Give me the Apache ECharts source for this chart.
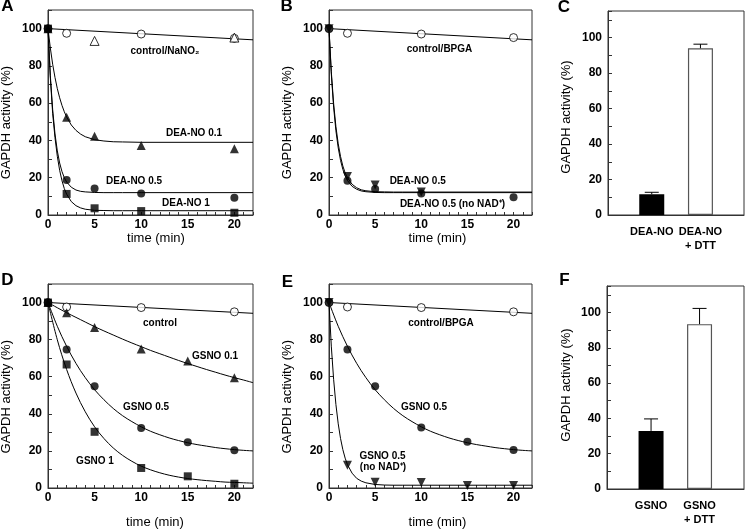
<!DOCTYPE html>
<html>
<head>
<meta charset="utf-8">
<script src="https://cdn.jsdelivr.net/npm/echarts@6/dist/echarts.min.js"></script>
<style>
  html, body { margin: 0; padding: 0; background: #fff; }
  #chart { width: 745px; height: 531px; }
</style>
</head>
<body>
<div id="chart"></div>
<script>
  // sampling times (min)
  const tAB = [0, 2, 5, 10, 20];
  const tDE = [0, 2, 5, 10, 15, 20];
  const ctrlT = [0, 22];
  const fitFast = [0, 0.25, 0.5, 0.75, 1, 1.25, 1.5, 1.75, 2, 2.5, 3, 3.5, 4, 5, 6, 7, 8, 10, 22];
  const fitSlow = [0, 1, 2, 3, 4, 5, 6, 7, 8, 9, 10, 11, 12, 13, 14, 15, 16, 17, 18, 19, 20, 21, 22];

  // panel A
  const aCtrl = [100, 97.5, null, 97.1, 94.8];
  const aNaNO2 = [null, null, 93.4, null, 95.2];
  const aDea01 = [100, 52.5, 42.3, 37.3, 35.5];
  const aDea05 = [100, 18.8, 14.2, 11.6, 9.3];
  const aDea1 = [100, 11.3, 3.6, 2.1, 1.2];
  const aCtrlFit = [100, 94];
  const aDea01Fit = [100, 89.6, 80.9, 73.8, 67.8, 62.9, 58.8, 55.4, 52.6, 48.3, 45.4, 43.4, 42, 40.4, 39.7, 39.3, 39.2, 39, 39];
  const aDea05Fit = [100, 74.8, 56.6, 43.5, 34.4, 27.9, 23.3, 20, 17.7, 14.9, 13.4, 12.7, 12.4, 12.1, 12, 12, 12, 12, 12];
  const aDea1Fit = [100, 73.5, 54.5, 41.5, 31.5, 24, 18.4, 14.2, 11.2, 7.2, 5, 3.8, 3.1, 2.5, 2.4, 2.3, 2.3, 2.3, 2.3];

  // panel B
  const bCtrl = [100, 97.5, null, 97.1, 95.2];
  const bDea05 = [100, 18.4, 14, 11.6, 9.5];
  const bNoNad = [100, 20.6, 16.1, 12.4, null];
  const bCtrlFit = [100, 94];
  const bDea05Fit = [100, 75.6, 57.9, 45.2, 36, 29.3, 24.5, 21, 18.5, 15.4, 13.8, 12.9, 12.5, 12.1, 12, 12, 12, 12, 12];
  const bNoNadFit = [100, 76.9, 59.9, 47.4, 38.2, 31.4, 26.3, 22.6, 20, 16.5, 14.6, 13.5, 13, 12.5, 12.4, 12.3, 12.3, 12.3, 12.3];

  // panel C
  const cCats = ['DEA-NO', 'DEA-NO\n+ DTT'];
  const cMeans = [11.7, 94];
  const cErrTop = [12.8, 96.3];

  // panel D
  const dCtrl = [100, 97.6, null, 97.3, null, 95];
  const dG01 = [100, 94.5, 86.6, 75, 68.5, 59.5];
  const dG05 = [100, 74.7, 54.8, 32.4, 24.7, 20.3];
  const dG1 = [100, 66.6, 30.3, 10.8, 6.3, 2.3];
  const dCtrlFit = [100, 94.2];
  const dG01Fit = [100, 97.2, 94.5, 92, 89.5, 87, 84.7, 82.5, 80.3, 78.2, 76.2, 74.2, 72.4, 70.6, 68.8, 67.1, 65.5, 63.9, 62.4, 60.9, 59.5, 58.2, 56.8];
  const dG05Fit = [100, 87.2, 76.4, 67.2, 59.5, 53, 47.6, 42.9, 39, 35.8, 33, 30.6, 28.7, 27, 25.6, 24.4, 23.4, 22.6, 21.8, 21.2, 20.7, 20.3, 20];
  const dG1Fit = [100, 79.9, 63.9, 51.2, 41.1, 33, 26.7, 21.6, 17.6, 14.4, 11.8, 9.8, 8.2, 6.9, 5.9, 5.1, 4.5, 4, 3.6, 3.2, 3, 2.8, 2.6];

  // panel E
  const eCtrl = [100, 97.6, null, 97.3, null, 95];
  const eG05 = [100, 74.7, 54.8, 32.6, 24.9, 20.5];
  const eNoNad = [100, 12.3, 3.1, 2.9, 1.3, 1.3];
  const eCtrlFit = [100, 94.2];
  const eG05Fit = [100, 87.2, 76.4, 67.2, 59.5, 53, 47.6, 42.9, 39, 35.8, 33, 30.6, 28.7, 27, 25.6, 24.4, 23.4, 22.6, 21.8, 21.2, 20.7, 20.3, 20];
  const eNoNadFit = [100, 76.5, 58.6, 45, 34.6, 26.7, 20.7, 16.1, 12.6, 8, 5.2, 3.7, 2.8, 1.9, 1.6, 1.5, 1.5, 1.5, 1.5];

  // panel F
  const fCats = ['GSNO', 'GSNO\n+ DTT'];
  const fMeans = [32.9, 93.4];
  const fErrTop = [39.7, 102.3];

  const FONT = '"Liberation Sans", Arial, Helvetica, sans-serif';
  const AX = '#333';

  function pairs(ts, vs) {
    return ts.map((t, i) => [t, vs[i]]).filter(p => p[1] != null);
  }

  // 0..5 = panel frames A-F, 6/7 = bar layers of C and F
  const grids = [
    { left: 48, top: 10, width: 205, height: 205, show: true },
    { left: 329, top: 10, width: 203, height: 205, show: true },
    { left: 608, top: 11, width: 136, height: 204, show: true },
    { left: 48, top: 284, width: 205, height: 204, show: true },
    { left: 329, top: 284, width: 203, height: 204, show: true },
    { left: 607, top: 286, width: 137, height: 203, show: true },
    { left: 627.4, top: 11, width: 97.4, height: 204, show: false },
    { left: 626.8, top: 286, width: 97, height: 203, show: false }
  ].map(g => Object.assign(g, { borderColor: AX, borderWidth: 1 }));

  function timeAxis(i) {
    return {
      gridIndex: i, type: 'value', min: 0, max: 22, interval: 1,
      axisLine: { lineStyle: { color: AX } },
      axisTick: { inside: true, length: 3, lineStyle: { color: AX } },
      splitLine: { show: false },
      axisLabel: {
        margin: 4, color: '#000', fontFamily: FONT, fontSize: 12, fontWeight: 'bold',
        formatter: v => (v % 5 === 0 && v <= 20) ? String(v) : ''
      }
    };
  }
  function frameAxis(i) {
    return {
      gridIndex: i, type: 'value', min: 0, max: 1,
      axisLine: { lineStyle: { color: AX } },
      axisTick: { show: false }, axisLabel: { show: false }, splitLine: { show: false }
    };
  }
  function catAxis(i, cats) {
    return {
      gridIndex: i, type: 'category', data: cats, boundaryGap: true,
      axisLine: { show: false }, axisTick: { show: false }, splitLine: { show: false },
      axisLabel: {
        margin: 10, color: '#000', fontFamily: FONT, fontSize: 11, fontWeight: 'bold',
        lineHeight: 14, interval: 0
      }
    };
  }
  function pctAxis(i, max) {
    return {
      gridIndex: i, type: 'value', min: 0, max: max, interval: 10,
      axisLine: { show: true, lineStyle: { color: AX } },
      axisTick: { show: true, inside: true, length: 4, lineStyle: { color: AX } },
      splitLine: { show: false },
      axisLabel: {
        margin: 6, color: '#000', fontFamily: FONT, fontSize: 12, fontWeight: 'bold',
        formatter: v => (v % 20 === 0 && v <= 100) ? String(v) : ''
      }
    };
  }
  function hiddenPct(i, max) {
    return { gridIndex: i, type: 'value', min: 0, max: max, show: false, splitLine: { show: false } };
  }

  function curve(i, ts, vs, smooth) {
    return {
      type: 'line', xAxisIndex: i, yAxisIndex: i, data: pairs(ts, vs),
      showSymbol: false, smooth: smooth ? 0.35 : false, silent: true,
      lineStyle: { color: '#000', width: 1 }, z: 2
    };
  }
  function points(i, ts, vs, symbol, size, open, rotate) {
    return {
      type: 'scatter', xAxisIndex: i, yAxisIndex: i, data: pairs(ts, vs),
      symbol: symbol, symbolSize: size, symbolRotate: rotate || 0, silent: true,
      itemStyle: open
        ? { color: '#fff', borderColor: '#000', borderWidth: 1 }
        : { color: '#000', borderColor: '#000', borderWidth: 0 },
      z: open ? 3 : 4
    };
  }
  function bars(i, vals) {
    return {
      type: 'bar', xAxisIndex: i, yAxisIndex: i, barWidth: 25, silent: true,
      data: vals.map((v, k) => ({
        value: v,
        itemStyle: k === 0
          ? { color: '#000' }
          : { color: '#fff', borderColor: '#555', borderWidth: 1.2 }
      }))
    };
  }
  function errBars(i, means, tops) {
    return {
      type: 'custom', xAxisIndex: i, yAxisIndex: i, silent: true, z: 5,
      data: means.map((m, k) => [k, m, tops[k]]),
      encode: { x: 0, y: [1, 2] },
      renderItem: function (params, api) {
        const lo = api.coord([api.value(0), api.value(1)]);
        const hi = api.coord([api.value(0), api.value(2)]);
        const st = { stroke: '#000', lineWidth: 1 };
        return {
          type: 'group', children: [
            { type: 'line', shape: { x1: lo[0], y1: lo[1], x2: hi[0], y2: hi[1] }, style: st },
            { type: 'line', shape: { x1: hi[0] - 7, y1: hi[1], x2: hi[0] + 7, y2: hi[1] }, style: st }
          ]
        };
      }
    };
  }

  function txt(s, x, y, font, extra) {
    return Object.assign({
      type: 'text', x: x, y: y, silent: true,
      style: { text: s, font: font, fill: '#000', align: 'center', verticalAlign: 'middle' }
    }, extra || {});
  }
  const lab = (s, x, y) => txt(s, x, y, 'bold 10px ' + FONT);
  const letter = (s, x, y) => txt(s, x, y, 'bold 17px ' + FONT);
  const xTitle = (x, y) => txt('time (min)', x, y, '13px ' + FONT);
  const yTitle = (x, y) => txt('GAPDH activity (%)', x, y, '13px ' + FONT, { rotation: Math.PI / 2 });

  const graphics = [
    letter('A', 7.5, 6), letter('B', 286.7, 6), letter('C', 564, 7.5),
    letter('D', 7.5, 280.5), letter('E', 287.5, 282), letter('F', 564.5, 280.5),
    yTitle(6.7, 122.5), yTitle(287.7, 122.5), yTitle(566.7, 117),
    yTitle(6.7, 396.7), yTitle(287.7, 396.7), yTitle(566, 385),
    xTitle(156, 238), xTitle(437.5, 238), xTitle(155, 522.3), xTitle(437.5, 522.3),
    lab('control/NaNO₂', 165, 51), lab('DEA-NO 0.1', 194, 133.5),
    lab('DEA-NO 0.5', 134, 181), lab('DEA-NO 1', 186, 203),
    lab('control/BPGA', 439.5, 49.5), lab('DEA-NO 0.5', 417.7, 181),
    lab('DEA-NO 0.5 (no NAD⁺)', 452.5, 204),
    lab('control', 160, 323.5), lab('GSNO 0.1', 215, 356),
    lab('GSNO 0.5', 146, 407.5), lab('GSNO 1', 95, 461),
    lab('control/BPGA', 441, 323.5), lab('GSNO 0.5', 424, 407.5),
    lab('GSNO 0.5', 382.5, 456), lab('(no NAD⁺)', 383, 467.5)
  ];

  const series = [
    // A
    curve(0, ctrlT, aCtrlFit), curve(0, fitFast, aDea01Fit),
    curve(0, fitFast, aDea05Fit), curve(0, fitFast, aDea1Fit),
    points(0, tAB, aCtrl, 'circle', 8, true),
    points(0, tAB, aNaNO2, 'triangle', 9, true),
    points(0, tAB, aDea01, 'triangle', 9, false),
    points(0, tAB, aDea05, 'circle', 8, false),
    points(0, tAB, aDea1, 'rect', 8, false),
    // B
    curve(1, ctrlT, bCtrlFit), curve(1, fitFast, bDea05Fit), curve(1, fitFast, bNoNadFit),
    points(1, tAB, bCtrl, 'circle', 8, true),
    points(1, tAB, bNoNad, 'triangle', 9, false, 180),
    points(1, tAB, bDea05, 'circle', 8, false),
    // C
    bars(6, cMeans), errBars(6, cMeans, cErrTop),
    // D
    curve(3, ctrlT, dCtrlFit), curve(3, fitSlow, dG01Fit, true),
    curve(3, fitSlow, dG05Fit, true), curve(3, fitSlow, dG1Fit, true),
    points(3, tDE, dCtrl, 'circle', 8, true),
    points(3, tDE, dG01, 'triangle', 9, false),
    points(3, tDE, dG05, 'circle', 8, false),
    points(3, tDE, dG1, 'rect', 8, false),
    // E
    curve(4, ctrlT, eCtrlFit), curve(4, fitSlow, eG05Fit, true), curve(4, fitFast, eNoNadFit),
    points(4, tDE, eCtrl, 'circle', 8, true),
    points(4, tDE, eG05, 'circle', 8, false),
    points(4, tDE, eNoNad, 'triangle', 9, false, 180),
    // F
    bars(7, fMeans), errBars(7, fMeans, fErrTop)
  ];

  const myChart = echarts.init(document.getElementById('chart'), null, { renderer: 'canvas' });
  const option = {
    animation: false,
    backgroundColor: '#fff',
    grid: grids,
    xAxis: [timeAxis(0), timeAxis(1), frameAxis(2), timeAxis(3), timeAxis(4), frameAxis(5),
            catAxis(6, cCats), catAxis(7, fCats)],
    yAxis: [pctAxis(0, 110), pctAxis(1, 110), pctAxis(2, 115), pctAxis(3, 110), pctAxis(4, 110), pctAxis(5, 115),
            hiddenPct(6, 115), hiddenPct(7, 115)],
    series: series,
    graphic: { elements: graphics }
  };
  myChart.setOption(option);
  window.addEventListener('resize', function () {
    myChart.resize();
  });
</script>
</body>
</html>
